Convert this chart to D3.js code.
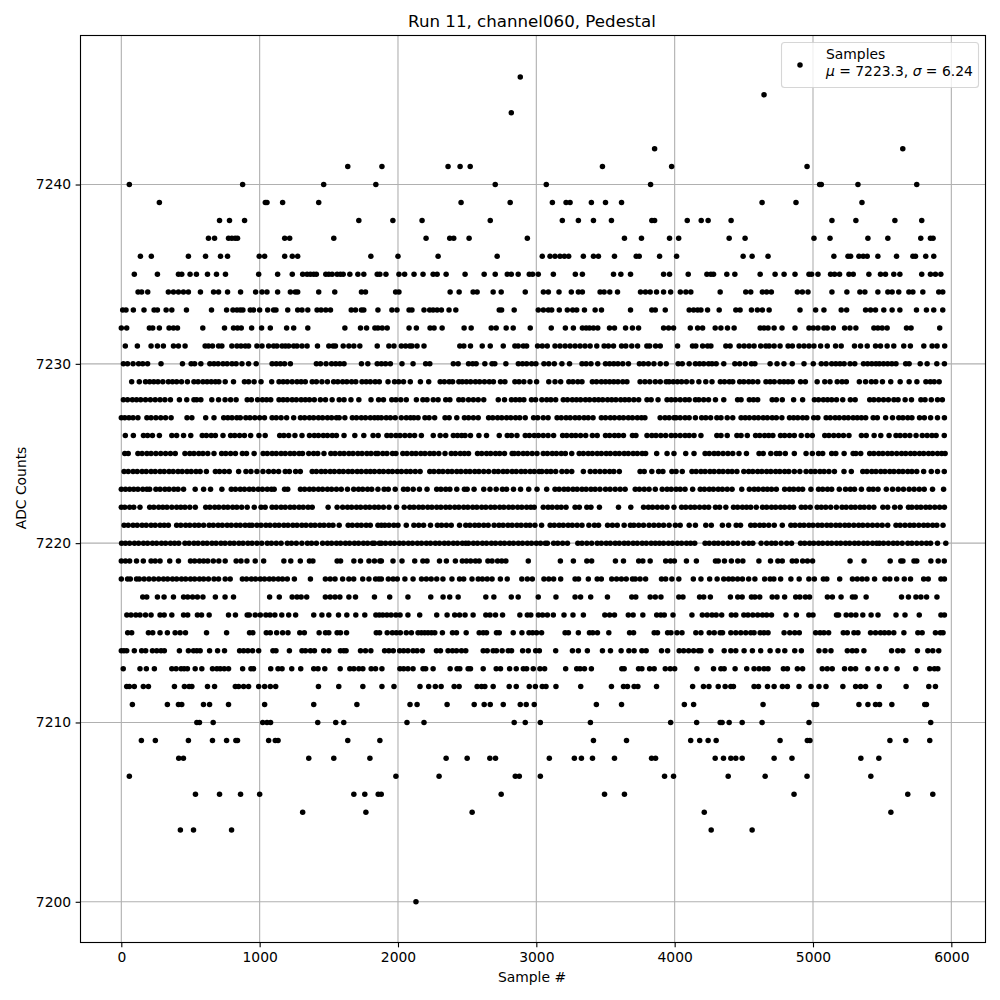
<!DOCTYPE html>
<html><head><meta charset="utf-8">
<script src="https://cdn.jsdelivr.net/npm/d3@7/dist/d3.min.js"></script>
<style>html,body{margin:0;padding:0;background:#fff}svg{display:block}text{font-family:"DejaVu Sans",sans-serif;fill:#000}</style>
</head><body><svg id="c" width="1000" height="1000"></svg>
<script>
const chartTitle="Run 11, channel060, Pedestal", xLabel="Sample #", yLabel="ADC Counts";
const xTicks=[0,1000,2000,3000,4000,5000,6000], yTicks=[7200,7210,7220,7230,7240];
const seriesName="Samples", meanValue="7223.3", sigmaValue="6.24";
const s7246=[2884], s7245=[4646], s7244=[2819], s7242=[3855,5649];
const s7241=[1637,1884,2362,2449,2522,3478,3978,4957];
const s7240=[58,877,1463,1840,2703,3072,3826,5048,5060,5325,5750];
const s7239=[275,1041,1053,1166,1427,2456,2811,3116,3215,3244,3398,3500,3616,4632,4877,5354];
const s7238=[710,782,891,1717,1963,2174,2667,3188,3304,3413,3543,3835,3855,4091,4192,4242,4408,5137,5310,5592,5786];
const s7237=[630,674,775,799,823,840,1181,1217,1536,2203,2374,2403,2514,2935,3637,3760,3963,4029,4394,4509,5007,5123,5397,5541,5779,5849,5868];
const s7236=[138,217,485,609,717,768,997,1036,1181,1236,1275,1804,2000,2290,2717,3043,3099,3135,3171,3203,3234,3340,3413,3449,3565,3722,3744,3891,4014,4495,4560,4675,5151,5253,5272,5332,5363,5392,5469,5604,5722,5741,5815,5873];
const s7235=[94,261,413,437,497,543,623,688,753,993,1130,1236,1311,1343,1367,1391,1410,1478,1500,1524,1560,1584,1604,1652,1710,1753,1850,1869,1913,2007,2048,2116,2181,2254,2283,2348,2485,2623,2703,2790,2819,2869,2949,2973,3014,3123,3282,3333,3558,3611,3681,3920,3963,4098,4233,4262,4281,4377,4435,4618,4726,4791,4870,4971,4990,5036,5127,5156,5192,5260,5291,5404,5488,5524,5584,5628,5786,5849,5885,5924];
const s7234=[121,147,191,340,377,413,449,485,572,667,703,768,862,971,1017,1053,1130,1222,1258,1275,1427,1543,1736,1765,1983,2007,2377,2442,2543,2572,2688,2746,2920,3051,3087,3164,3253,3304,3333,3461,3490,3531,3587,3753,3789,3823,3869,3920,3971,4041,4081,4117,4329,4514,4550,4634,4665,4699,4887,4923,4964,5137,5245,5339,5375,5469,5541,5572,5620,5693,5722,5794,5909,5938];
const s7233=[10,34,87,164,237,261,324,365,471,652,761,807,836,860,879,932,956,1000,1058,1101,1118,1203,1275,1306,1348,1415,1444,1478,1512,1662,1693,1736,1753,1855,1956,1993,2080,2101,2188,2229,2254,2283,2314,2369,2418,2732,2749,2840,3014,3051,3087,3111,3166,3224,3263,3292,3348,3425,3471,3681,3835,3860,3932,4105,4137,4166,4190,4238,4322,4442,4473,4555,4598,4634,4683,4906,5019,5079,5204,5243,5380,5416,5452,5512,5572,5628,5748,5820,5873,5938];
const s7232=[0,39,203,227,275,345,377,406,589,746,811,840,867,942,1014,1077,1195,1246,1348,1616,1729,1773,1833,1855,1886,1922,2080,2133,2232,2261,2319,2478,2529,2674,2710,2782,2833,2956,3108,3210,3268,3333,3360,3384,3413,3444,3529,3565,3645,3695,3739,3920,3956,3992,4113,4166,4202,4293,4334,4382,4430,4618,4646,4675,4719,4776,4870,4971,5002,5036,5079,5103,5147,5228,5267,5310,5440,5469,5500,5536,5676,5709,5916];
const s7231=[29,116,215,261,304,377,413,461,606,630,659,703,727,799,836,865,896,920,980,1017,1065,1101,1125,1162,1186,1210,1246,1270,1306,1343,1418,1500,1531,1548,1604,1645,1681,1724,1850,1934,1971,2024,2055,2085,2101,2138,2188,2447,2476,2524,2609,2667,2761,2845,2869,2906,2930,3009,3043,3079,3135,3171,3208,3244,3280,3316,3352,3389,3437,3490,3521,3558,3616,3647,3690,3732,3799,3819,3862,3896,4021,4129,4153,4202,4238,4262,4370,4401,4466,4502,4538,4574,4622,4659,4683,4719,4762,4820,4851,4899,4935,4971,5007,5055,5103,5163,5204,5300,5344,5392,5452,5488,5536,5584,5656,5704,5801,5861,5897,5952];
const s7230=[15,45,85,125,155,190,287,442,505,530,575,640,670,700,735,765,800,830,872,920,975,1090,1120,1150,1180,1222,1410,1440,1480,1520,1550,1580,1610,1736,1782,1850,1880,1910,1945,2029,2109,2200,2230,2400,2435,2510,2540,2565,2628,2680,2700,2780,2870,2900,2930,2966,2997,3055,3090,3130,3185,3240,3330,3360,3395,3444,3500,3530,3560,3590,3625,3666,3745,3775,3810,3850,3896,3939,4025,4055,4105,4150,4180,4210,4245,4270,4300,4355,4435,4470,4510,4555,4580,4690,4740,4790,4850,4935,5002,5060,5095,5135,5165,5195,5225,5268,5302,5365,5395,5425,5455,5480,5510,5540,5570,5600,5670,5695,5775,5825,5895,5950];
const s7229=[75,130,175,205,235,265,300,340,370,400,435,478,525,555,590,620,650,680,705,751,811,890,920,960,1010,1087,1140,1170,1200,1235,1270,1300,1330,1380,1410,1450,1490,1535,1565,1600,1630,1665,1695,1740,1770,1800,1835,1865,1928,1975,2005,2040,2089,2162,2222,2305,2335,2370,2395,2440,2465,2495,2525,2560,2590,2625,2660,2690,2741,2773,2845,2875,2910,2954,3002,3090,3135,3176,3235,3265,3300,3330,3405,3435,3470,3500,3530,3560,3590,3625,3655,3750,3785,3820,3860,3896,3939,3960,3990,4020,4050,4085,4125,4175,4225,4270,4330,4360,4395,4420,4470,4500,4535,4565,4601,4660,4690,4720,4760,4790,4820,4850,4910,4945,5030,5085,5123,5175,5210,5241,5335,5380,5422,5454,5502,5562,5630,5695,5751,5816,5848,5876,5912];
const s7228=[15,45,80,110,140,175,210,245,280,315,355,420,473,525,545,575,654,703,750,790,830,910,940,985,1020,1050,1080,1140,1170,1200,1235,1265,1300,1330,1360,1395,1439,1476,1524,1575,1610,1660,1717,1805,1860,1895,1955,1985,2020,2060,2133,2180,2210,2255,2290,2345,2375,2440,2470,2510,2545,2580,2620,2725,2770,2820,2850,2880,2910,2965,2995,3040,3075,3105,3140,3195,3225,3260,3290,3320,3355,3385,3420,3450,3480,3515,3545,3575,3610,3640,3670,3705,3740,3800,3830,3880,3945,3975,4005,4040,4075,4105,4150,4175,4210,4245,4295,4355,4455,4480,4540,4570,4600,4705,4735,4778,4860,4925,5010,5040,5075,5105,5135,5170,5215,5270,5305,5410,5440,5475,5510,5545,5585,5615,5666,5712,5780,5810,5855,5900,5935];
const s7227=[0,25,55,85,120,185,215,250,285,320,360,475,510,610,670,740,770,800,835,860,900,930,965,1000,1035,1090,1120,1155,1195,1246,1295,1325,1360,1390,1425,1455,1490,1520,1555,1575,1616,1670,1700,1735,1765,1800,1830,1855,1880,1915,1945,1980,2024,2060,2090,2115,2145,2195,2225,2265,2340,2370,2425,2480,2510,2545,2580,2655,2685,2720,2750,2785,2815,2850,2880,2920,2980,3010,3050,3085,3150,3180,3215,3245,3280,3310,3345,3375,3410,3470,3500,3535,3565,3600,3630,3665,3695,3730,3760,3785,3895,3930,3960,3995,4010,4040,4075,4105,4150,4195,4225,4260,4305,4335,4380,4420,4480,4510,4540,4575,4605,4640,4670,4705,4735,4775,4830,4860,4890,4925,4955,5005,5035,5095,5125,5160,5190,5225,5255,5290,5320,5350,5381,5435,5465,5525,5575,5620,5650,5685,5715,5770,5805,5850,5900,5950];
const s7226=[29,87,160,190,225,275,365,400,450,502,585,615,650,680,735,790,820,855,890,935,995,1040,1145,1175,1210,1255,1306,1360,1395,1425,1460,1490,1525,1555,1610,1688,1753,1820,1857,1920,1950,1985,2015,2050,2085,2120,2169,2255,2305,2345,2400,2430,2460,2485,2524,2585,2640,2732,2790,2820,2860,2920,2950,2985,3015,3050,3085,3125,3190,3220,3255,3285,3320,3357,3405,3440,3500,3530,3565,3595,3630,3695,3720,3800,3835,3865,3900,3935,3975,4005,4040,4075,4105,4140,4190,4305,4335,4380,4450,4480,4525,4585,4615,4650,4680,4710,4765,4795,4830,4865,4915,4959,4995,5085,5115,5150,5185,5220,5260,5350,5385,5442,5490,5550,5600,5630,5665,5700,5745,5790,5825,5860,5890,5949];
const s7225=[25,50,120,150,185,215,250,285,320,355,390,460,495,525,560,590,625,670,725,755,790,825,875,905,960,1025,1055,1090,1120,1155,1185,1220,1250,1285,1310,1355,1390,1420,1465,1515,1545,1580,1610,1645,1675,1710,1740,1775,1805,1840,1855,1890,1920,1960,1985,2035,2065,2100,2130,2165,2195,2230,2260,2295,2340,2385,2415,2450,2480,2510,2575,2605,2640,2670,2705,2735,2770,2825,2840,2870,2905,2935,2970,3005,3050,3080,3115,3145,3180,3210,3256,3310,3340,3375,3405,3440,3470,3505,3535,3570,3600,3635,3665,3700,3730,3765,3790,3870,3945,3995,4080,4140,4220,4250,4285,4315,4350,4385,4420,4465,4519,4610,4640,4695,4735,4760,4800,4865,4950,4995,5040,5070,5135,5165,5225,5290,5310,5345,5410,5440,5475,5505,5540,5570,5605,5640,5670,5705,5735,5770,5800,5835,5865,5900,5930,5955];
const s7224=[20,50,85,115,150,180,215,245,280,310,345,375,410,440,475,505,540,570,615,680,710,745,780,848,901,937,980,1024,1065,1101,1137,1185,1215,1260,1294,1380,1410,1445,1475,1510,1540,1575,1605,1640,1670,1705,1735,1770,1800,1830,1865,1895,1930,1960,1995,2025,2060,2090,2125,2160,2230,2260,2295,2325,2360,2390,2425,2455,2490,2520,2555,2585,2620,2655,2695,2725,2760,2790,2825,2855,2890,2920,2955,2985,3020,3040,3075,3105,3140,3185,3220,3256,3340,3390,3425,3460,3495,3530,3560,3600,3750,3780,3835,3884,3915,3980,4010,4055,4125,4155,4190,4220,4255,4285,4320,4350,4385,4415,4450,4500,4535,4565,4600,4630,4665,4695,4730,4760,4795,4825,4865,4905,4950,4985,5015,5050,5080,5115,5155,5224,5277,5360,5390,5425,5455,5490,5520,5555,5585,5620,5650,5685,5715,5750,5800,5855,5900,5949];
const s7223=[0,30,60,90,120,155,185,205,250,280,315,345,380,410,450,534,595,645,727,795,825,860,890,925,955,990,1020,1055,1085,1105,1180,1203,1295,1325,1360,1390,1425,1455,1490,1520,1555,1590,1635,1680,1715,1745,1780,1810,1855,1900,1930,1980,2040,2070,2110,2155,2210,2280,2310,2345,2375,2425,2480,2500,2550,2620,2665,2710,2755,2785,2835,2886,2945,3005,3075,3135,3165,3200,3230,3265,3295,3330,3360,3395,3425,3460,3500,3533,3570,3606,3642,3715,3745,3780,3815,3860,3910,3945,3975,4010,4040,4075,4130,4185,4215,4250,4280,4315,4345,4380,4415,4485,4540,4575,4605,4640,4670,4700,4735,4795,4830,4860,4895,4925,4985,5040,5070,5105,5135,5190,5235,5270,5300,5350,5405,5435,5470,5530,5575,5616,5654,5695,5731,5768,5804,5864,5944];
const s7222=[0,25,60,90,135,205,235,270,300,330,365,400,430,460,495,535,610,640,675,705,740,770,805,835,870,910,961,1010,1040,1090,1120,1155,1185,1220,1250,1285,1315,1350,1380,1495,1560,1600,1635,1665,1700,1730,1765,1795,1830,1860,1895,1935,1990,2045,2085,2115,2150,2180,2215,2245,2280,2310,2345,2375,2410,2440,2475,2505,2540,2570,2605,2635,2670,2700,2735,2765,2800,2830,2865,2895,2930,2960,2985,3050,3085,3115,3150,3180,3215,3280,3311,3365,3395,3456,3594,3683,3775,3810,3840,3875,3910,3945,3995,4050,4080,4115,4145,4180,4215,4246,4295,4325,4370,4425,4455,4490,4520,4550,4590,4635,4665,4700,4730,4765,4795,4830,4860,4915,4945,4980,5030,5060,5092,5128,5169,5210,5240,5275,5305,5340,5370,5405,5440,5505,5540,5590,5630,5690,5715,5750,5780,5815,5845,5880,5915,5950];
const s7221=[20,50,85,115,150,180,215,245,280,310,340,400,430,465,495,530,560,595,635,665,700,730,765,795,830,860,895,925,945,980,1010,1045,1075,1110,1140,1175,1205,1240,1270,1305,1335,1370,1400,1435,1465,1500,1530,1575,1640,1670,1705,1735,1770,1800,1855,1880,1905,1935,1970,2000,2060,2115,2150,2185,2235,2285,2315,2350,2385,2445,2490,2520,2555,2585,2620,2652,2695,2730,2760,2795,2825,2860,2890,2925,2954,2990,3038,3100,3130,3165,3195,3230,3260,3295,3330,3380,3420,3450,3515,3550,3585,3635,3680,3705,3740,3775,3815,3850,3885,3920,3960,4005,4040,4105,4150,4225,4265,4345,4390,4445,4476,4550,4580,4615,4645,4680,4720,4778,4840,4870,4905,4935,4970,5000,5035,5065,5100,5130,5165,5195,5230,5260,5295,5330,5360,5395,5430,5465,5500,5540,5600,5630,5665,5700,5730,5765,5800,5830,5865,5895,5940];
const s7220=[2,30,60,95,125,160,190,225,255,290,320,355,385,415,460,490,525,555,590,620,655,685,720,750,785,815,850,880,915,945,980,1015,1055,1085,1120,1155,1200,1230,1265,1305,1345,1375,1410,1455,1490,1520,1555,1585,1620,1650,1685,1715,1750,1780,1815,1830,1865,1880,1910,1945,1975,2010,2040,2075,2105,2140,2170,2205,2235,2270,2300,2335,2365,2400,2430,2465,2490,2510,2545,2575,2610,2640,2675,2705,2740,2770,2805,2835,2870,2900,2935,2965,3000,3030,3065,3080,3125,3155,3190,3225,3300,3330,3365,3400,3440,3470,3505,3535,3570,3600,3635,3665,3700,3730,3765,3795,3830,3860,3890,3920,3955,3985,4020,4050,4085,4115,4145,4220,4250,4285,4315,4350,4385,4420,4455,4500,4535,4565,4625,4665,4700,4730,4770,4810,4845,4910,4940,4975,5005,5040,5070,5105,5135,5170,5200,5235,5265,5300,5330,5365,5395,5430,5460,5480,5510,5545,5580,5610,5645,5685,5715,5750,5785,5820,5850,5900,5960];
const s7219=[0,30,60,110,159,215,245,280,350,413,500,530,565,595,625,665,705,751,830,865,908,968,1029,1175,1225,1294,1360,1385,1560,1585,1681,1729,1790,1830,1869,1880,1964,2029,2121,2180,2210,2300,2350,2415,2465,2495,2525,2560,2587,2650,2680,2720,2750,2780,2942,3174,3268,3365,3400,3572,3630,3740,3770,3823,3935,3970,3998,4085,4157,4295,4315,4360,4410,4456,4493,4609,4693,4746,4778,4850,4880,4925,4960,4997,5268,5369,5558,5635,5650,5730,5750,5852,5905,5949];
const s7218=[0,45,65,110,130,165,200,235,270,305,335,370,400,435,465,500,530,565,595,630,670,703,751,787,875,905,940,970,1005,1035,1070,1100,1135,1165,1200,1251,1367,1475,1510,1545,1600,1645,1680,1745,1790,1838,1862,1880,1930,1965,1995,2050,2109,2170,2205,2240,2280,2325,2390,2445,2475,2535,2580,2610,2645,2680,2740,2790,2895,2935,2971,3055,3090,3125,3176,3280,3305,3376,3440,3470,3545,3580,3615,3650,3695,3715,3750,3790,3905,3935,3980,4030,4135,4190,4253,4307,4355,4390,4420,4455,4490,4535,4580,4650,4690,4717,4766,4840,4900,4970,5010,5075,5100,5193,5285,5320,5355,5390,5445,5520,5555,5605,5660,5705,5800,5833,5925,5950];
const s7217=[155,184,261,309,377,450,480,515,550,590,680,750,811,1072,1142,1235,1270,1300,1340,1475,1510,1545,1580,1645,1693,1830,1940,2072,2237,2326,2374,2435,2635,2693,2819,2869,3014,3142,3280,3320,3393,3514,3690,3719,3823,3860,3901,4030,4060,4180,4210,4258,4403,4456,4488,4555,4580,4615,4705,4740,4795,4875,4905,4945,4975,5104,5140,5203,5285,5305,5384,5640,5690,5744,5780,5821,5896];
const s7216=[40,70,105,135,175,215,280,310,365,450,480,550,580,635,775,825,910,925,968,1005,1045,1075,1110,1160,1210,1260,1391,1450,1500,1570,1630,1695,1760,1840,1865,1890,1920,1950,1985,2015,2072,2157,2280,2355,2410,2445,2485,2543,2635,2665,2705,2756,2881,2935,2960,3015,3045,3080,3123,3200,3265,3340,3495,3530,3565,3665,3700,3770,3870,3900,3925,3988,4125,4200,4235,4270,4300,4340,4410,4442,4500,4530,4565,4600,4635,4665,4700,4805,4880,4970,5000,5170,5185,5240,5275,5310,5360,5420,5470,5600,5665,5768,5925,5950];
const s7215=[46,75,196,227,280,333,389,425,464,616,761,927,951,1048,1077,1123,1166,1205,1290,1323,1430,1476,1500,1560,1584,1628,1843,1867,1922,1959,1988,2017,2060,2097,2145,2169,2193,2217,2242,2266,2321,2394,2423,2493,2587,2616,2640,2712,2732,2833,2896,2947,2973,3002,3038,3208,3232,3304,3384,3408,3442,3524,3674,3703,3852,3876,3949,3973,4017,4053,4153,4190,4250,4286,4329,4346,4406,4442,4478,4514,4550,4574,4618,4646,4675,4791,4832,4868,4901,5019,5051,5079,5113,5219,5248,5296,5325,5416,5452,5488,5517,5548,5584,5657,5758,5789,5885,5921,5940];
const s7214=[0,19,39,94,147,176,225,256,287,311,420,485,522,546,570,638,696,746,855,884,915,949,993,1096,1118,1215,1306,1331,1367,1396,1463,1500,1584,1608,1625,1729,1765,1804,1903,1934,1966,2012,2041,2072,2109,2138,2176,2278,2307,2362,2394,2423,2459,2490,2616,2645,2688,2712,2753,2797,2821,2901,2942,2995,3022,3140,3261,3304,3369,3478,3536,3613,3669,3707,3763,3794,3905,3949,4033,4065,4101,4137,4173,4190,4262,4358,4406,4442,4502,4562,4622,4690,4747,4796,4868,4916,5043,5087,5130,5248,5284,5315,5368,5568,5613,5649,5755,5830,5866,5909];
const s7213=[14,135,181,239,365,396,432,454,478,534,582,659,691,715,744,775,877,937,956,1080,1133,1162,1232,1297,1391,1422,1471,1582,1652,1681,1717,1746,1806,1838,1884,2014,2041,2072,2109,2181,2200,2254,2377,2427,2447,2507,2524,2616,2710,2741,2807,2855,2906,2930,2978,3026,3060,3212,3292,3316,3348,3398,3618,3635,3739,3763,3819,3852,3932,3968,4000,4161,4281,4334,4358,4437,4521,4574,4610,4646,4675,4786,4815,4887,4925,5067,5103,5139,5228,5272,5308,5397,5464,5527,5608,5743,5844,5878,5902];
const s7212=[39,58,94,159,196,384,456,490,510,623,674,824,848,884,920,993,1036,1077,1116,1425,1572,1746,1884,1971,2159,2222,2270,2312,2406,2442,2572,2604,2628,2688,2804,2855,2949,2993,3043,3070,3142,3321,3543,3630,3659,3707,3734,3869,4130,4208,4248,4315,4365,4406,4425,4574,4606,4671,4719,4779,4815,4899,4986,5043,5094,5216,5308,5344,5380,5479,5673,5837,5885];
const s7211=[80,333,413,437,594,638,775,1036,1391,1703,2087,2138,2355,2551,2623,2667,2761,2884,2927,2985,3434,3616,4070,4137,4639,5007,5026,5332,5397,5452,5481,5570,5808,5820];
const s7210=[546,565,664,1022,1053,1079,1420,1550,1608,2065,2188,2840,2920,3029,3391,3971,4159,4329,4343,4394,4488,4632,4971,5851];
const s7209=[145,246,485,659,761,828,840,1065,1113,1133,1637,1869,3413,3652,4116,4181,4242,4300,4762,4959,4978,5556,5671,5844];
const s7208=[415,449,1355,1536,1797,2348,2500,2664,2705,3094,3275,3326,3406,3565,3833,3862,4293,4353,4406,4442,4488,4719,4848,5346,5476];
const s7207=[58,1985,2297,2848,2877,3029,3927,3992,4387,4654,4957,5418];
const s7206=[536,710,862,1000,1681,1760,1857,1879,2746,3493,3637,4863,5685,5866];
const s7205=[1311,1768,2536,4214,5563];
const s7204=[427,522,797,4264,4560];
const s7200=[2130];

const levels=[[7246,s7246],[7245,s7245],[7244,s7244],[7242,s7242],[7241,s7241],[7240,s7240],[7239,s7239],[7238,s7238],[7237,s7237],[7236,s7236],[7235,s7235],[7234,s7234],[7233,s7233],[7232,s7232],[7231,s7231],[7230,s7230],[7229,s7229],[7228,s7228],[7227,s7227],[7226,s7226],[7225,s7225],[7224,s7224],[7223,s7223],[7222,s7222],[7221,s7221],[7220,s7220],[7219,s7219],[7218,s7218],[7217,s7217],[7216,s7216],[7215,s7215],[7214,s7214],[7213,s7213],[7212,s7212],[7211,s7211],[7210,s7210],[7209,s7209],[7208,s7208],[7207,s7207],[7206,s7206],[7205,s7205],[7204,s7204],[7200,s7200]];
const points=levels.flatMap(([y,xs])=>xs.map(x=>({x,y})));

const L=80.5,R=985.5,T=35.5,B=942.5;
const x=d3.scaleLinear().domain([-295,6247]).range([L,R]);
const y=d3.scaleLinear().domain([7197.73,7248.31]).range([B,T]);
const svg=d3.select("#c");
const fs="13.89px";

// grid
const grid=svg.append("g").attr("stroke","#b0b0b0").attr("stroke-width",1.11).attr("fill","none");
grid.selectAll(".v").data(xTicks).join("line").attr("x1",d=>x(d)).attr("x2",d=>x(d)).attr("y1",T).attr("y2",B);
grid.selectAll(".h").data(yTicks).join("line").attr("y1",d=>y(d)).attr("y2",d=>y(d)).attr("x1",L).attr("x2",R);

// points
svg.append("g").selectAll("circle").data(points).join("circle")
  .attr("cx",d=>x(d.x)).attr("cy",d=>y(d.y)).attr("r",2.75).attr("fill","#000");

// axes
const ax=svg.append("g").attr("transform",`translate(0,${B})`).call(d3.axisBottom(x).tickValues(xTicks).tickFormat(d3.format("d")).tickSize(4.86).tickPadding(4.5));
const ay=svg.append("g").attr("transform",`translate(${L},0)`).call(d3.axisLeft(y).tickValues(yTicks).tickFormat(d3.format("d")).tickSize(4.86).tickPadding(4.5));
[ax,ay].forEach(g=>{g.select(".domain").remove();g.selectAll("line").attr("stroke","#000").attr("stroke-width",1.11);g.selectAll("text").attr("font-size",fs).attr("font-family",'"DejaVu Sans"').attr("fill","#000");});
svg.append("rect").attr("x",L).attr("y",T).attr("width",R-L).attr("height",B-T).attr("fill","none").attr("stroke","#000").attr("stroke-width",1.11);

// labels
svg.append("text").attr("x",532).attr("y",27).attr("text-anchor","middle").attr("font-size","16.67px").text(chartTitle);
svg.append("text").attr("x",532).attr("y",982).attr("text-anchor","middle").attr("font-size",fs).text(xLabel);
svg.append("text").attr("transform","translate(26,488) rotate(-90)").attr("text-anchor","middle").attr("font-size",fs).text(yLabel);

// legend
const lg=svg.append("g");
lg.append("rect").attr("x",781.5).attr("y",42.5).attr("width",197).attr("height",45).attr("rx",3).attr("fill","#fff").attr("fill-opacity",0.8).attr("stroke","#ccc").attr("stroke-opacity",0.8).attr("stroke-width",1.11);
lg.append("circle").attr("cx",800).attr("cy",65).attr("r",2.75).attr("fill","#000");
lg.append("text").attr("x",826).attr("y",59).attr("font-size",fs).text(seriesName);
const t=lg.append("text").attr("x",826).attr("y",76).attr("font-size",fs);
t.append("tspan").attr("font-style","italic").text("μ");
t.append("tspan").text(` = ${meanValue}, `);
t.append("tspan").attr("font-style","italic").text("σ");
t.append("tspan").text(` = ${sigmaValue}`);
</script></body></html>
